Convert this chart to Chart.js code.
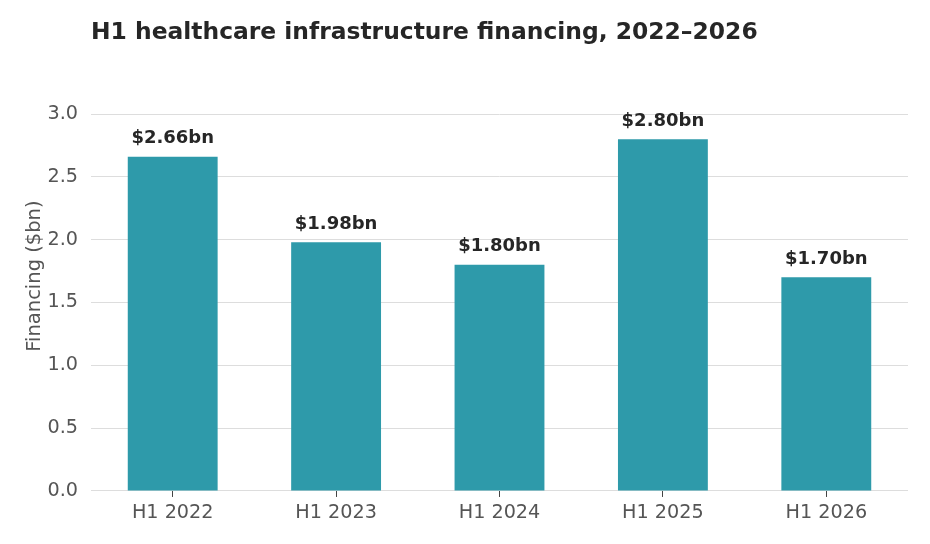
<!DOCTYPE html>
<html>
<head>
<meta charset="utf-8">
<script src="https://cdn.jsdelivr.net/npm/chart.js@4.4.1/dist/chart.umd.min.js"></script>
<style>
html,body{margin:0;padding:0;background:#fff;}
#wrap{width:930px;height:544px;position:relative;}
</style>
</head>
<body>
<div id="wrap"><canvas id="c"></canvas></div>
<script>
const chartTitle = "H1 healthcare infrastructure financing, 2022–2026";
const categories = ["H1 2022", "H1 2023", "H1 2024", "H1 2025", "H1 2026"];
const financing = [2.66, 1.98, 1.80, 2.80, 1.70];
const valueLabels = ["$2.66bn", "$1.98bn", "$1.80bn", "$2.80bn", "$1.70bn"];
const yTicks = [0, 0.5, 1.0, 1.5, 2.0, 2.5, 3.0];
const yTitle = "Financing ($bn)";

const FONT = "'DejaVu Sans', sans-serif";

const overlay = {
  id: 'overlay',
  afterDatasetsDraw(chart) {
    const ctx = chart.ctx;
    const meta = chart.getDatasetMeta(0);
    ctx.save();
    ctx.fillStyle = '#262626';
    ctx.font = "bold 18px " + FONT;
    ctx.textAlign = 'center';
    ctx.textBaseline = 'bottom';
    meta.data.forEach((bar, i) => {
      ctx.fillText(valueLabels[i], bar.x, bar.y - 9);
    });
    ctx.font = "bold 23.4px " + FONT;
    ctx.textAlign = 'left';
    ctx.textBaseline = 'alphabetic';
    ctx.fillText(chartTitle, chart.chartArea.left, 39);
    // y-axis title
    ctx.fillStyle = '#555555';
    ctx.font = "19.5px " + FONT;
    ctx.textAlign = 'center';
    ctx.translate(39.5, chart.chartArea.top + (chart.chartArea.bottom - chart.chartArea.top) * 0.43);
    ctx.rotate(-Math.PI / 2);
    ctx.fillText(yTitle, 0, 0);
    ctx.restore();
  }
};

new Chart(document.getElementById('c'), {
  type: 'bar',
  data: {
    labels: categories,
    datasets: [{
      data: financing,
      backgroundColor: '#2e9aaa',
      borderWidth: 0,
      barPercentage: 0.55,
      categoryPercentage: 1.0
    }]
  },
  options: {
    responsive: true,
    maintainAspectRatio: false,
    animation: false,
    devicePixelRatio: 1,
    layout: { padding: { top: 114, right: 22, bottom: 14, left: 0 } },
    plugins: { legend: { display: false }, tooltip: { enabled: false }, title: { display: false } },
    scales: {
      x: {
        grid: { display: true, offset: false, drawOnChartArea: false, drawTicks: true, tickLength: 6, tickColor: '#444444' },
        border: { display: false },
        ticks: { color: '#555555', font: { family: FONT, size: 19.2 }, padding: 5 }
      },
      y: {
        min: 0, max: 3.0,
        afterBuildTicks(axis) { axis.ticks = yTicks.map(v => ({ value: v })); },
        afterFit(axis) { axis.width = 91; },
        grid: { color: '#dddddd', drawTicks: false, lineWidth: 1 },
        border: { display: false },
        ticks: {
          color: '#555555', font: { family: FONT, size: 19.2 }, padding: 13,
          callback: v => v.toFixed(1)
        },
        title: { display: false }
      }
    }
  },
  plugins: [overlay]
});
</script>
</body>
</html>
